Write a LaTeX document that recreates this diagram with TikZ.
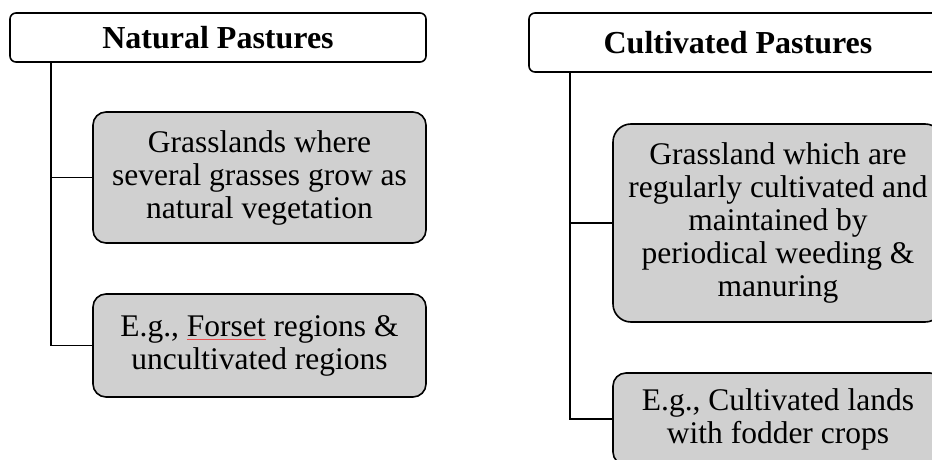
\documentclass[tikz,border=0pt]{standalone}
\usepackage{fontspec}
\setmainfont{Liberation Serif}
\usepackage{xcolor}
\definecolor{boxgray}{RGB}{208,208,208}
\definecolor{spellred}{RGB}{235,80,80}
\newsavebox\ulbox
\newcommand\redul[1]{\sbox\ulbox{#1}\rlap{\color{spellred}\rule[-4pt]{\wd\ulbox}{1pt}}\usebox\ulbox}
\tikzset{
  head/.style={draw=black, line width=1.6pt, rounded corners=6pt, fill=white, align=center,
    font=\fontsize{32}{34}\selectfont\bfseries, inner sep=0pt},
  gbox/.style={draw=black, line width=1.6pt, fill=boxgray, align=center,
    font=\fontsize{31.5}{33}\selectfont, inner sep=0pt},
  link/.style={draw=black, line width=1.5pt}
}
\begin{document}
\begin{tikzpicture}[x=1pt,y=-1pt]
\useasboundingbox (0,0) rectangle (932,460);
\clip (0,0) rectangle (932,460);
\node[head, minimum width=416pt, minimum height=49pt] (h1) at (218,37.5) {Natural Pastures};
\node[gbox, rounded corners=13pt, minimum width=333pt, minimum height=131pt] (b1) at (259.5,177.5)
  {Grasslands where\\several grasses grow as\\natural vegetation};
\node[gbox, rounded corners=13pt, minimum width=333pt, minimum height=103pt] (b2) at (259.5,345.5)
  {E.g., \redul{Forset} regions \&\\uncultivated regions};
\node[head, minimum width=418pt, minimum height=59pt] (h2) at (738,42.5) {Cultivated Pastures};
\node[gbox, rounded corners=18pt, minimum width=330pt, minimum height=198pt] (b3) at (778,223)
  {Grassland which are\\regularly cultivated and\\maintained by\\periodical weeding \&\\manuring};
\node[gbox, rounded corners=13pt, minimum width=330pt, minimum height=92pt] (b4) at (778,419)
  {E.g., Cultivated lands\\with fodder crops};
\coordinate (t1) at ([xshift=42pt]h1.south west);
\coordinate (t2) at ([xshift=42pt]h2.south west);
\draw[link] (t1) |- (b1.west);
\draw[link] (t1) |- (b2.west);
\draw[link] (t2) |- (b3.west);
\draw[link] (t2) |- (b4.west);
\end{tikzpicture}
\end{document}
